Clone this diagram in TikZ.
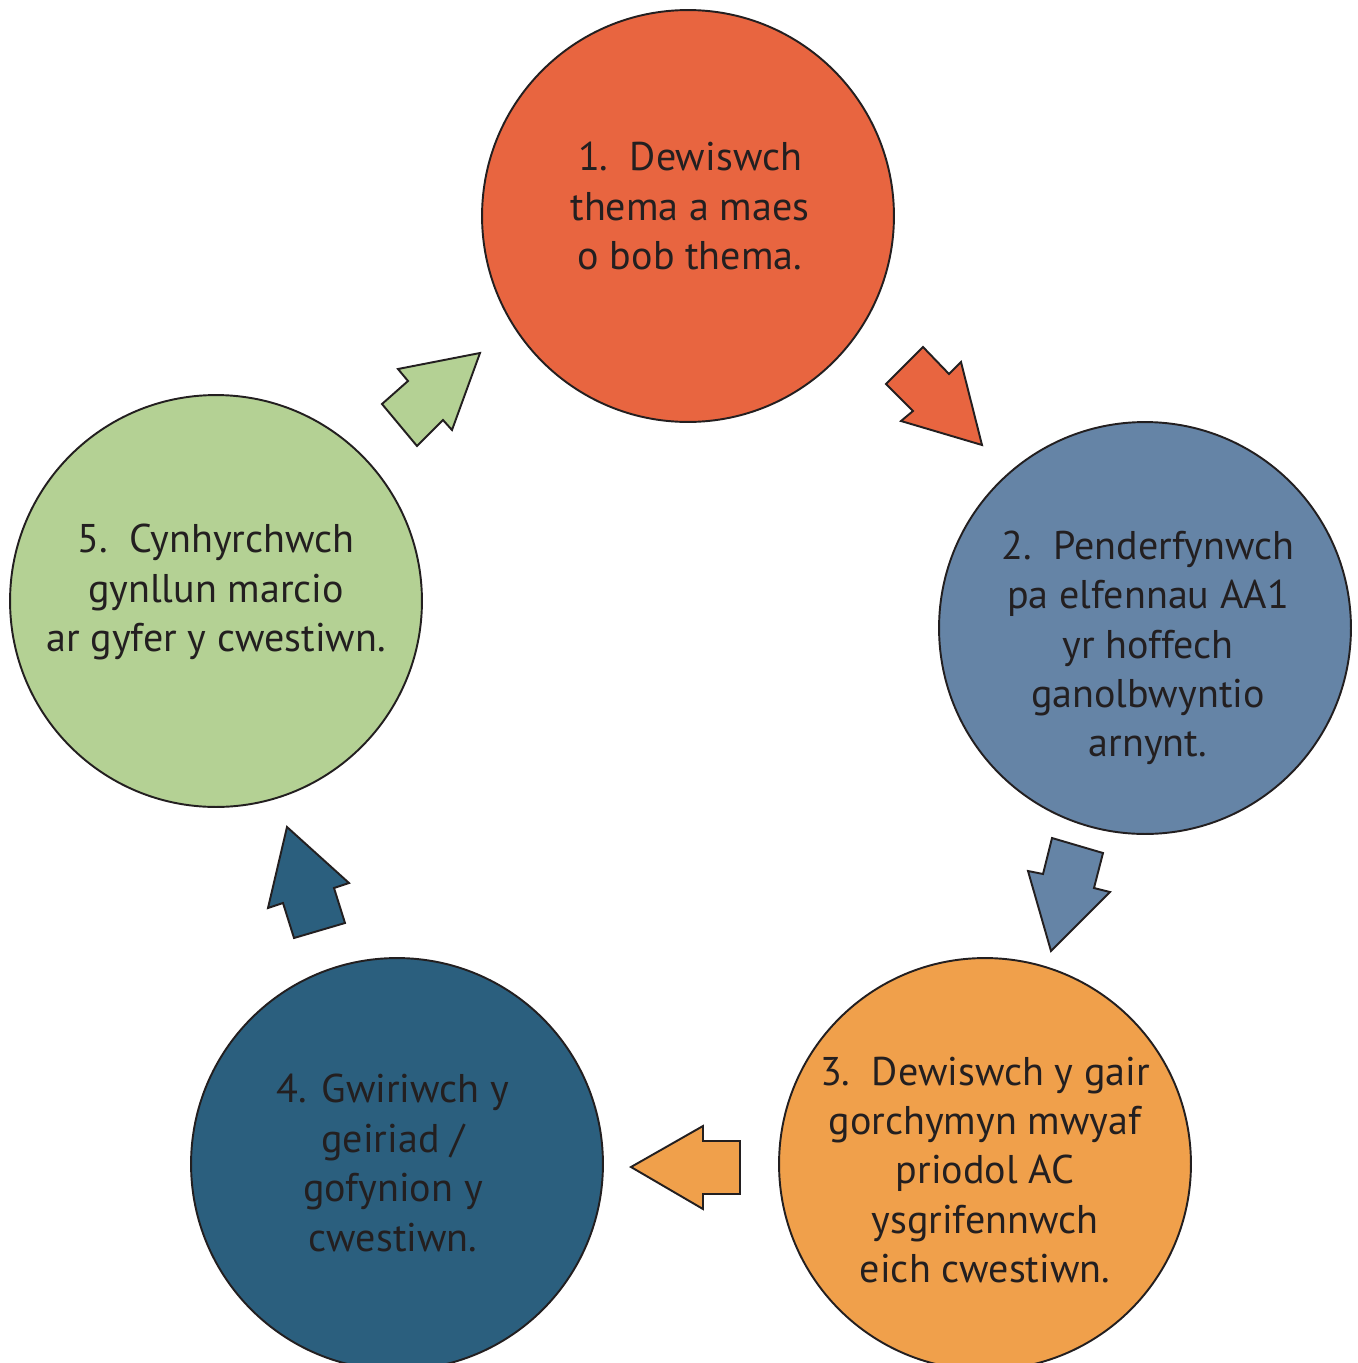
\documentclass[tikz,border=0pt]{standalone}
\usepackage{fontspec}
\setmainfont{PT Sans}
\usepackage{tikz}
\usetikzlibrary{positioning}
\usepackage{xcolor}
\definecolor{inkcolor}{RGB}{35, 31, 32}
\definecolor{themecolor}{RGB}{232, 101, 64}
\definecolor{elementcolor}{RGB}{101, 132, 166}
\definecolor{wordcolor}{RGB}{240, 160, 75}
\definecolor{checkcolor}{RGB}{43, 95, 126}
\definecolor{markcolor}{RGB}{180, 209, 148}

\begin{document}
\begin{tikzpicture}[
    x=0.02cm, y=-0.02cm,
    stepcircle/.style={circle, draw=inkcolor, line width=1.1pt, minimum size=8.24cm, inner sep=0pt},
    steptext/.style={align=center, text=inkcolor, font=\fontsize{22.8}{28.1}\selectfont},
    blockarrow/.style={draw=inkcolor, line width=1.1pt, line join=miter}
]
    \useasboundingbox (0,0) rectangle (1358,1363);

    % Theme
    \node[stepcircle, fill=themecolor] (theme) at (688, 216) {};
    \node[steptext] (themetext) at (690, 206) {1.\ \ Dewiswch\\thema a maes\\o bob thema.};

    % Elements
    \node[stepcircle, fill=elementcolor] (element) at (1145, 628) {};
    \node[steptext] (elementtext) at (1148, 648) {2.\ \ Penderfynwch\\pa elfennau AA1\\yr hoffech\\ganolbwyntio\\arnynt.};

    % Command word
    \node[stepcircle, fill=wordcolor] (word) at (985, 1164) {};
    \node[steptext] (wordtext) at (985, 1170) {3.\ \ Dewiswch y gair\\gorchymyn mwyaf\\priodol AC\\ysgrifennwch\\eich cwestiwn.};

    % Check
    \node[stepcircle, fill=checkcolor] (check) at (397, 1164) {};
    \node[steptext] (checktext) at (393, 1163) {4. Gwiriwch y\\geiriad /\\gofynion y\\cwestiwn.};

    % Mark scheme
    \node[stepcircle, fill=markcolor] (mark) at (216, 601) {};
    \node[steptext] (marktext) at (216, 592) {5.\ \ Cynhyrchwch\\gynllun marcio\\ar gyfer y cwestiwn.};

    % Arrows
    \draw[blockarrow, fill=themecolor] (923,347) -- (949,374) -- (961,362) -- (982,445) -- (901,421) -- (913,411) -- (886,384) -- cycle;
    \draw[blockarrow, fill=elementcolor] (1052,838) -- (1103,853) -- (1094,888) -- (1110,892) -- (1051,951) -- (1028,871) -- (1043,874) -- cycle;
    \draw[blockarrow, fill=wordcolor] (740,1141) -- (740,1194) -- (703,1194) -- (703,1209) -- (631,1167) -- (703,1126) -- (703,1141) -- cycle;
    \draw[blockarrow, fill=checkcolor] (294,938) -- (345,923) -- (334,888) -- (349,883) -- (287,827) -- (268,908) -- (283,903) -- cycle;
    \draw[blockarrow, fill=markcolor] (417,446) -- (443,420) -- (452,430) -- (480,353) -- (398,369) -- (408,381) -- (382,404) -- cycle;
\end{tikzpicture}
\end{document}
